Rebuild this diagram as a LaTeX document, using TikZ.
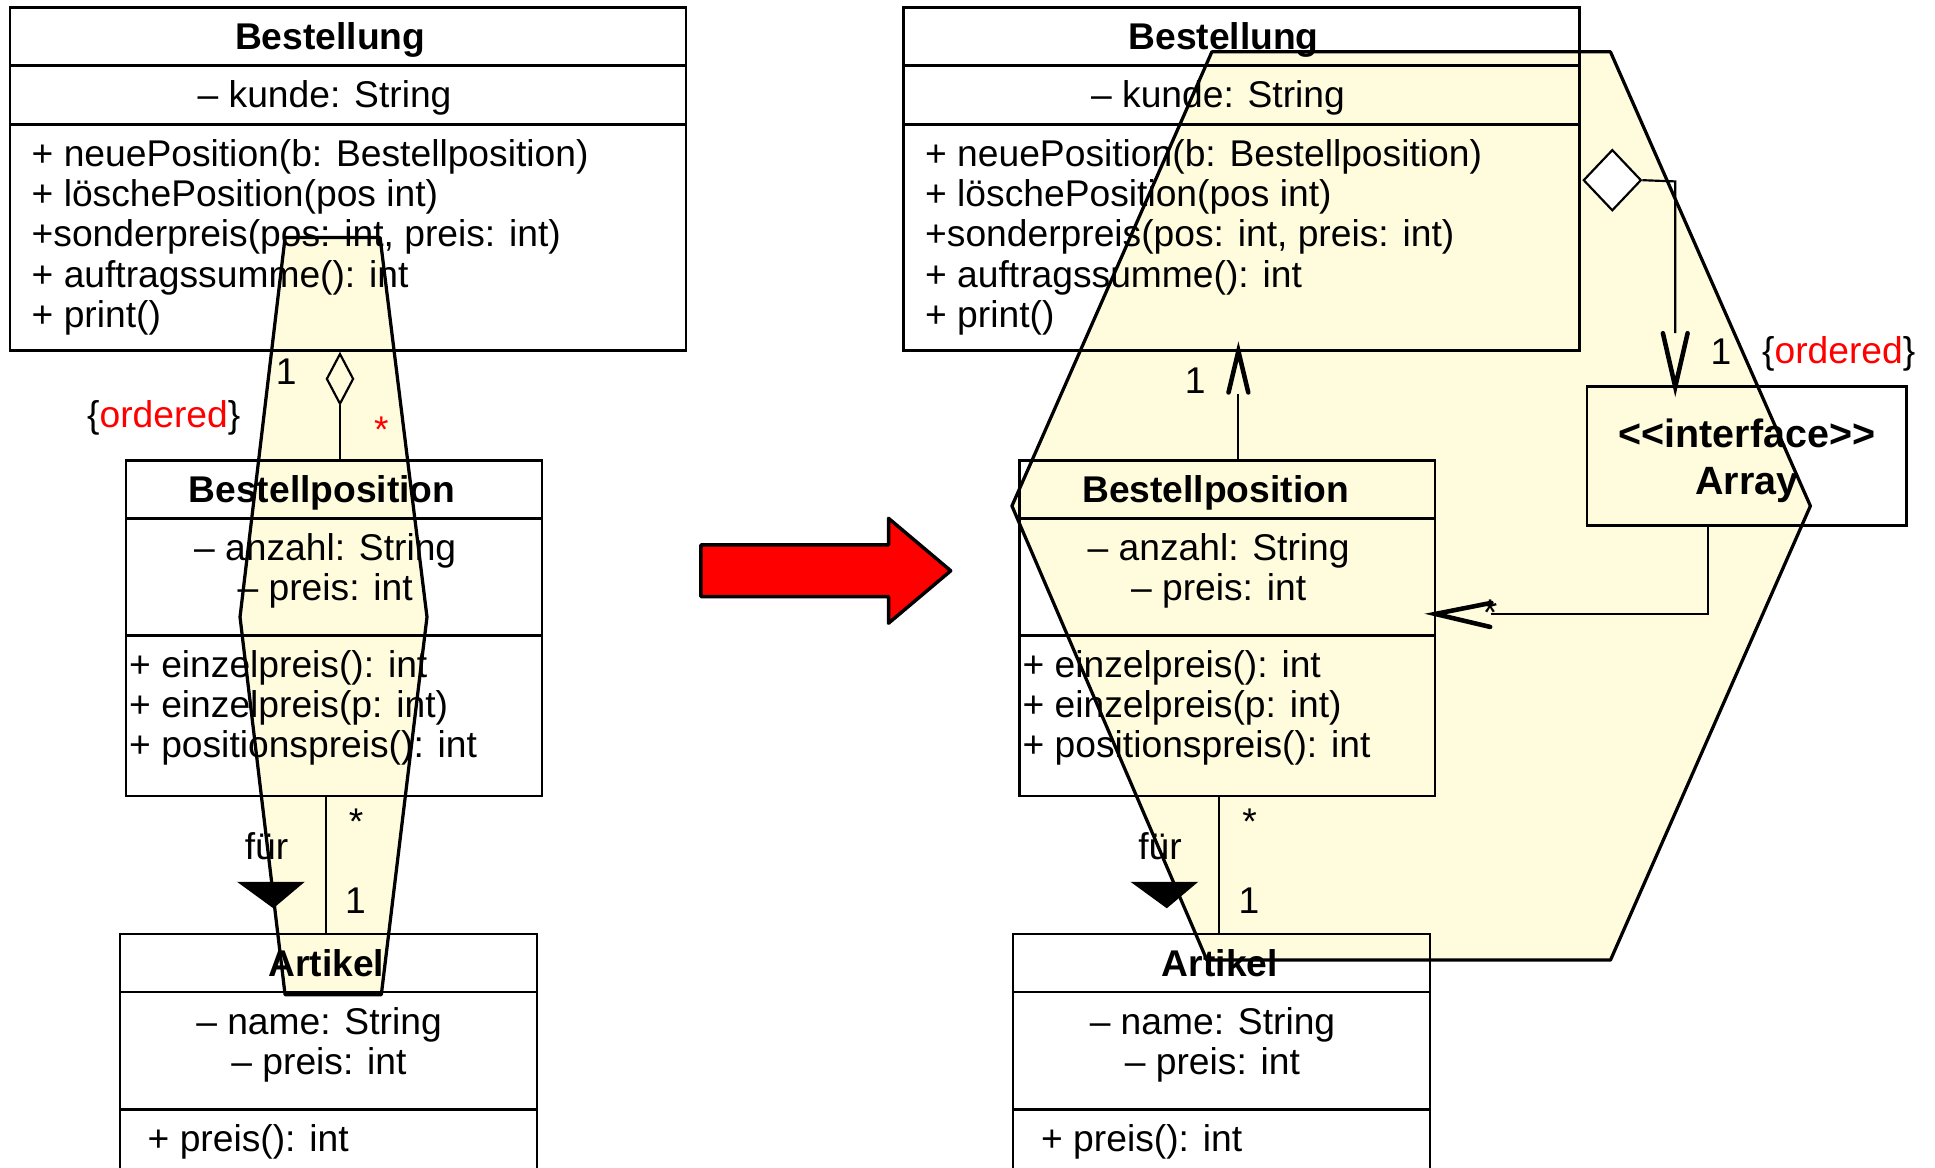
\documentclass[tikz,border=0pt]{standalone}
\usepackage{fontspec}
\setmainfont{Liberation Sans}
\usepackage{tikz,tkz-euclide}
\usetikzlibrary{positioning,calc,shapes.geometric}
\definecolor{hexgelb}{RGB}{255,252,222}
\newcommand{\klschrift}{\fontsize{8.58}{9.25}\selectfont}
\newcommand{\intschrift}{\fontsize{9.1}{10.8}\selectfont\bfseries}
\tikzset{
  fach/.style={draw, line width=0.55pt, inner sep=0pt, outer sep=0pt},
  titel/.style={inner sep=0pt, font=\klschrift\bfseries},
  zeilen/.style={inner sep=0pt, font=\klschrift, align=center},
  ops/.style={inner sep=0pt, font=\klschrift, align=left},
  lbl/.style={inner sep=0pt, font=\klschrift, text height=0.72em, text depth=0pt},
  verb/.style={line width=0.5pt},
  pfeil/.style={line width=1.05pt, line cap=round},
  raute/.style={diamond, draw, line width=0.5pt, inner sep=0pt}
}
% die drei Klassen mit der Assoziation "fuer", #1 = Praefix der Namen
\newcommand{\bestellmodell}[1]{%
  \node[fach, minimum width=5.48cm, minimum height=0.47cm, anchor=north west] (#1bst) at (0.08,-0.06) {};
  \node[fach, minimum width=5.48cm, minimum height=0.48cm, below=0pt of #1bst] (#1bstA) {};
  \node[fach, minimum width=5.48cm, minimum height=1.83cm, below=0pt of #1bstA] (#1bstO) {};
  \node[titel, below=0.115cm of #1bst.north, xshift=-0.145cm] (#1bstT) {Bestellung};
  \node[zeilen, below=0.115cm of #1bstA.north, xshift=-0.19cm] (#1bstAT) {– kunde: String};
  \node[ops, below right=0.115cm and 0.17cm of #1bstO.north west] (#1bstOT) {+ neuePosition(b: Bestellposition)\\+ löschePosition(pos int)\\+sonderpreis(pos: int, preis: int)\\+ auftragssumme(): int\\+ print()};
  %
  \node[fach, minimum width=3.37cm, minimum height=0.47cm, anchor=north west] (#1pos) at (1.02,-3.73) {};
  \node[fach, minimum width=3.37cm, minimum height=0.95cm, below=0pt of #1pos] (#1posA) {};
  \node[fach, minimum width=3.37cm, minimum height=1.30cm, below=0pt of #1posA] (#1posO) {};
  \node[titel, below=0.115cm of #1pos.north, xshift=-0.095cm] (#1posT) {Bestellposition};
  \node[zeilen, below=0.115cm of #1posA.north, xshift=-0.07cm] (#1posAT) {– anzahl: String\\– preis: int};
  \node[ops, below right=0.115cm and 0.02cm of #1posO.north west] (#1posOT) {+ einzelpreis(): int\\+ einzelpreis(p: int)\\+ positionspreis(): int};
  %
  \node[fach, minimum width=3.38cm, minimum height=0.47cm, anchor=north west] (#1art) at (0.97,-7.57) {};
  \node[fach, minimum width=3.38cm, minimum height=0.95cm, below=0pt of #1art] (#1artA) {};
  \node[fach, minimum width=3.38cm, minimum height=0.80cm, below=0pt of #1artA] (#1artO) {};
  \node[titel, below=0.115cm of #1art.north, xshift=-0.015cm] (#1artT) {Artikel};
  \node[zeilen, below=0.115cm of #1artA.north, xshift=-0.075cm] (#1artAT) {– name: String\\– preis: int};
  \node[ops, below right=0.115cm and 0.22cm of #1artO.north west] (#1artOT) {+ preis(): int};
  %
  \draw[verb] ([xshift=-0.065cm]#1posO.south) -- ([xshift=-0.02cm]#1art.north);
  \node[lbl] (#1viele) at (2.885,-6.635) {*};
  \node[lbl] (#1eins) at (2.88,-7.275) {1};
  \node[lbl] (#1fuer) at (2.16,-6.835) {für};
  \fill (1.92,-7.145) -- (2.47,-7.145) -- (2.215,-7.36) -- cycle;
}

\begin{document}
\begin{tikzpicture}
  \clip (0,0) rectangle (15.68,-9.46);
  % Sechsecke
  \tkzDefPoints{2.31/-1.925/A1, 3.08/-1.925/A2, 3.46/-5.0/A3, 3.09/-8.06/A4, 2.31/-8.06/A5, 1.945/-5.0/A6}
  \tkzDefPoints{9.82/-0.42/B1, 13.05/-0.42/B2, 14.67/-4.10/B3, 13.05/-7.78/B4, 9.78/-7.78/B5, 8.20/-4.10/B6}
  \tkzDrawPolygon[fill=hexgelb, line width=0.75pt](A1,A2,A3,A4,A5,A6)
  \tkzDrawPolygon[fill=hexgelb, line width=0.75pt](B1,B2,B3,B4,B5,B6)

  \bestellmodell{l}
  \begin{scope}[xshift=7.24cm]
    \bestellmodell{r}
  \end{scope}

  % links: Aggregation
  \node[raute, minimum width=0.22cm, minimum height=0.41cm] (ldia) at (2.755,-3.07) {};
  \draw[verb] (ldia.south) -- (ldia.south |- lpos.north);
  \node[lbl] (leins) at (2.32,-2.99) {1};
  \node[lbl, text=red] (lviele) at (3.09,-3.46) {*};
  \node[lbl] (lord) at (1.327,-3.34) {\{\textcolor{red}{ordered}\}};

  % roter Pfeil
  \tkzDefPoints{5.68/-4.415/p1, 7.20/-4.415/p2, 7.20/-4.20/p3, 7.704/-4.625/p4, 7.20/-5.05/p5, 7.20/-4.835/p6, 5.68/-4.835/p7}
  \tkzDrawPolygon[fill=red, line width=0.8pt, line join=round](p1,p2,p3,p4,p5,p6,p7)

  % rechts: Interface Array
  \node[fach, line width=0.65pt, minimum width=2.59cm, minimum height=1.12cm, anchor=north west] (rint) at (12.86,-3.135) {};
  \node[titel, font=\intschrift, align=center, below=0.25cm of rint.north] (rintT) {{<}{<}interface{>}{>}\\Array};

  \coordinate (rspitze) at ([xshift=-0.025cm,yshift=-0.005cm]rbstO.south);
  \draw[verb] (rpos.north -| rspitze) -- ([yshift=-0.35cm]rspitze);
  \draw[pfeil] ([xshift=-0.08cm,yshift=-0.335cm]rspitze) -- (rspitze) -- ([xshift=0.08cm,yshift=-0.335cm]rspitze);
  \node[lbl] (reins1) at (9.685,-3.06) {1};

  \node[raute, fill=white, minimum width=0.47cm, minimum height=0.495cm] (rdia) at (13.065,-1.46) {};
  \coordinate (rknick) at (13.575,-1.47);
  \coordinate (rspitze2) at (rknick |- rint.north);
  \draw[verb] (rdia.east) -- (rknick) -- ([yshift=0.435cm]rspitze2);
  \draw[pfeil] ([xshift=-0.1cm,yshift=0.435cm]rspitze2) -- (rspitze2) -- ([xshift=0.1cm,yshift=0.435cm]rspitze2);
  \node[lbl] (reins2) at (13.945,-2.83) {1};
  \node[lbl] (rord) at (14.90,-2.82) {\{\textcolor{red}{ordered}\}};

  \coordinate (rknick2) at (13.84,-4.975);
  \coordinate (rspitze3) at (rknick2 -| rposA.east);
  \draw[verb] (rint.south -| rknick2) -- (rknick2) -- ([xshift=0.45cm]rspitze3);
  \draw[pfeil] ([xshift=0.455cm,yshift=0.09cm]rspitze3) -- (rspitze3) -- ([xshift=0.445cm,yshift=-0.105cm]rspitze3);
  \node[lbl] (rviele2) at (12.075,-4.945) {*};
\end{tikzpicture}
\end{document}
